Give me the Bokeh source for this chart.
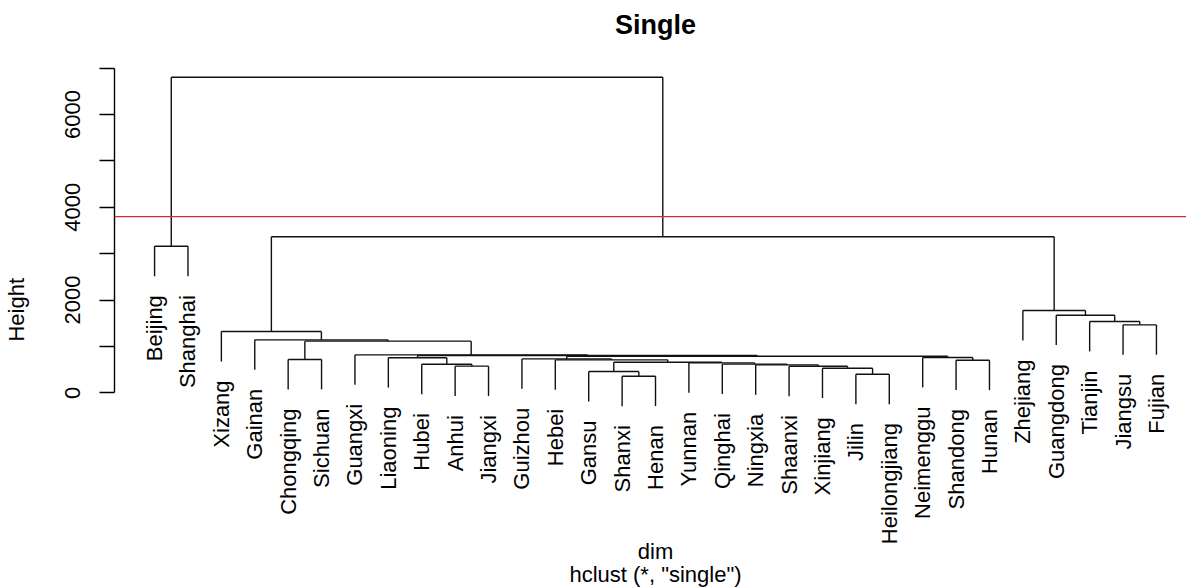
import math
from bokeh.plotting import figure
from bokeh.models import Span, FixedTicker, LinearAxis, ColumnDataSource
from bokeh.embed import file_html
from bokeh.resources import INLINE
from bokeh.core.properties import value

# hclust merge table (single linkage); leaves are names, ints refer to earlier merges (1-based)
merge_a = ["Shanxi", "Jilin", "Gansu", "Xinjiang", "Shaanxi", "Anhui", "Ningxia", "Hubei",
           "Qinghai", "Yunnan", 3, "Shandong", "Hebei", "Chongqing", "Guizhou", "Liaoning",
           "Neimenggu", 15, 16, "Guangxi", 14, "Gainan", "Xizang", "Jiangsu", "Tianjin",
           "Guangdong", "Zhejiang", "Beijing", 23, 28]
merge_b = ["Henan", "Heilongjiang", 1, 2, 4, "Jiangxi", 5, 6,
           7, 9, 10, "Hunan", 11, "Sichuan", 13, 8,
           12, 17, 18, 19, 20, 21, 22, "Fujian", 24,
           25, 26, "Shanghai", 27, 29]
merge_h = [358, 401, 459, 530, 572, 575, 602, 616,
           618, 646, 660, 703, 711, 718, 732, 757,
           761, 790, 805, 818, 1114, 1142, 1322, 1466, 1537,
           1674, 1774, 3160, 3365, 6802]

cut_height = 3800
y_ticks = [0, 1000, 2000, 3000, 4000, 5000, 6000, 7000]
y_tick_labels = {1000: "", 3000: "", 5000: "", 7000: ""}
main_title = "Single"
x_title = "dim"
sub_title = 'hclust (*, "single")'
y_title = "Height"

hang = 0.1 * (max(merge_h) - min(merge_h))

# leaf order from the tree
order = []
def walk(node):
    if isinstance(node, str):
        order.append(node)
    else:
        walk(merge_a[node - 1]); walk(merge_b[node - 1])
walk(len(merge_h))
leaf_x = {name: i + 1 for i, name in enumerate(order)}

node_x = {}
def pos(node):
    if isinstance(node, str):
        return leaf_x[node]
    if node not in node_x:
        node_x[node] = (pos(merge_a[node - 1]) + pos(merge_b[node - 1])) / 2.0
    return node_x[node]

x0, y0, x1, y1 = [], [], [], []
leaf_y = {}
for k in range(len(merge_h)):
    h = merge_h[k]
    kids = [merge_a[k], merge_b[k]]
    xs = []
    for c in kids:
        cx = pos(c)
        if isinstance(c, str):
            cy = h - hang
            leaf_y[c] = cy
        else:
            cy = merge_h[c - 1]
        x0.append(cx); y0.append(cy); x1.append(cx); y1.append(h)
        xs.append(cx)
    x0.append(xs[0]); y0.append(h); x1.append(xs[1]); y1.append(h)

FONT = "Liberation Sans"

p = figure(width=1186, height=588, x_range=(-0.2, 31.9), y_range=(-4218, 8458),
           title=None, output_backend="svg", toolbar_location=None,
           x_axis_location=None, y_axis_location=None,
           min_border_left=114, min_border_right=0, min_border_top=0, min_border_bottom=0)
p.outline_line_color = None
p.xgrid.visible = False
p.ygrid.visible = False
p.background_fill_color = "white"
p.border_fill_color = "white"

seg = ColumnDataSource(dict(x0=x0, y0=y0, x1=x1, y1=y1))
p.segment("x0", "y0", "x1", "y1", source=seg, line_color="#111111", line_width=1.4)

lab = ColumnDataSource(dict(x=[leaf_x[n] for n in order], y=[leaf_y[n] for n in order], t=order))
p.text("x", "y", text="t", source=lab, angle=math.pi / 2, text_align="right",
       text_baseline="middle", y_offset=19, text_font=value(FONT),
       text_font_size="22px", text_color="black")

xc = sum(leaf_x.values()) / len(leaf_x)
p.text(x=[xc], y=[7920], text=[main_title], text_align="center", text_baseline="alphabetic",
       text_font=value(FONT), text_font_size="27px", text_font_style="bold", text_color="black")
p.text(x=[xc, xc], y=[-3430, -3925], text=[x_title, sub_title], text_align="center",
       text_baseline="alphabetic", text_font=value(FONT), text_font_size="22px",
       text_color="black")

p.add_layout(Span(location=cut_height, dimension="width", line_color="#D42A2A", line_width=1.3))

yaxis = LinearAxis(bounds=(y_ticks[0], y_ticks[-1]), ticker=FixedTicker(ticks=y_ticks),
                   major_label_overrides=y_tick_labels)
yaxis.major_label_orientation = "parallel"
yaxis.major_tick_out = 15
yaxis.major_tick_in = 0
yaxis.minor_tick_out = 0
yaxis.minor_tick_in = 0
yaxis.axis_line_width = 1.4
yaxis.major_tick_line_width = 1.4
yaxis.major_label_standoff = 19
yaxis.major_label_text_font = FONT
yaxis.major_label_text_font_size = "22px"
yaxis.major_label_text_color = "black"
yaxis.axis_label = y_title + "\u00a0" * 5
yaxis.axis_label_text_font = FONT
yaxis.axis_label_text_font_size = "22px"
yaxis.axis_label_text_font_style = "normal"
yaxis.axis_label_text_color = "black"
yaxis.axis_label_standoff = 34
p.add_layout(yaxis, "left")

open("out.html", "w").write(file_html(p, INLINE))
